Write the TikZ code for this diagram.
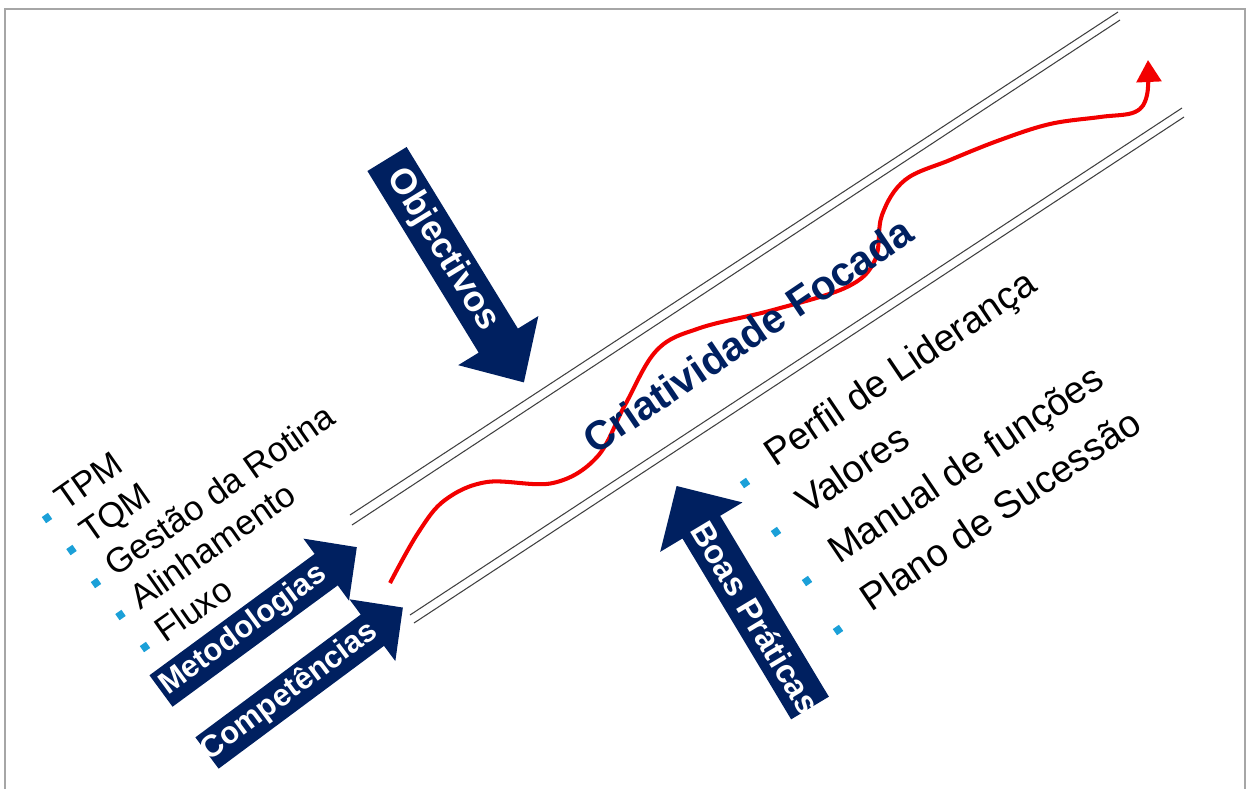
\documentclass[tikz,border=0pt]{standalone}
\usepackage{fontspec}
\setmainfont{Liberation Sans}
\usetikzlibrary{arrows.meta}
\definecolor{navyblue}{HTML}{002060}
\definecolor{bulletblue}{HTML}{1BA0D8}
\definecolor{framegray}{HTML}{A6A6A6}
\tikzset{
  lane/.style={black!75, line width=0.6pt},
  redline/.style={red!95!black, line width=2.3pt, -{Triangle[width=14pt,length=12.5pt]}},
  arrowlabel/.style={text=white, font=\bfseries, inner sep=0pt},
  leftitem/.style={font=\fontsize{19.8}{24}\selectfont, anchor=base west, inner sep=0pt, rotate=35},
  rightitem/.style={font=\fontsize{21.7}{26}\selectfont, anchor=base west, inner sep=0pt, rotate=34},
  bulletsq/.style={fill=bulletblue, minimum size=0.15cm, inner sep=0pt, rotate=35}
}

\begin{document}
\begin{tikzpicture}[x=0.02cm, y=-0.02cm]
\newcommand{\fatarrow}[9]{
  \begin{scope}[shift={#1}, rotate=#2]
    \fill[navyblue] (0,-#4) -- (#3-#6,-#4) -- (#3-#6,-#5) -- (#3,0) -- (#3-#6,#5) -- (#3-#6,#4) -- (0,#4) -- cycle;
    \node[arrowlabel, transform shape, #8] (#7) at ({(#3-#6)/2},0) {#9};
  \end{scope}
}
\useasboundingbox (0,0) rectangle (1248,789);
\draw[framegray, line width=1.2pt] (5,789) -- (5,9) -- (1245,9) -- (1245,789);

\draw[lane] (350,515) -- (1118,12);
\draw[lane] (352,525) -- (1120,20);
\draw[lane] (410,615) -- (1182,108);
\draw[lane] (414,623) -- (1184,117);

\draw [redline,smooth,tension=0.6] plot coordinates {(390,583) (418,533) (445,500) (487,482) (553,483) (597,457) (625,405) (657,350) (700,328) (773,310) (847,287) (875,260) (882,215) (905,180) (950,160) (1000,140) (1050,124) (1100,117) (1135,112) (1147,95) (1148,60)};

\node[font=\bfseries\fontsize{23.2}{28}\selectfont, text=navyblue, rotate=34, inner sep=0pt] (crit) at (748,335) {Criatividade Focada};

\fatarrow{(387,159)}{-58.5}{262}{23}{47}{49}{obj}{font=\bfseries\fontsize{20.4}{24}\selectfont}{Objectivos}
\fatarrow{(810,708)}{121}{259}{22}{48}{48}{boas}{rotate=180, font=\bfseries\fontsize{18.8}{22}\selectfont}{Boas Práticas}
\fatarrow{(161,691)}{36.3}{243}{19.5}{38.5}{38}{metod}{font=\bfseries\fontsize{17.6}{21}\selectfont}{Metodologias}
\fatarrow{(207,753)}{36.6}{244}{19.5}{38.5}{38}{compet}{font=\bfseries\fontsize{17.6}{21}\selectfont}{Competências}

\node[leftitem] (tpm) at (65,512) {TPM};
\node[leftitem] (tqm) at (90,545) {TQM};
\node[leftitem] (rotina) at (115,578) {Gestão da Rotina};
\node[leftitem] (alinh) at (140,611) {Alinhamento};
\node[leftitem] (fluxo) at (165,644) {Fluxo};
\node[bulletsq] (b1) at (47,518) {};
\node[bulletsq] (b2) at (71.5,550) {};
\node[bulletsq] (b3) at (96,583) {};
\node[bulletsq] (b4) at (120.5,615) {};
\node[bulletsq] (b5) at (145,647) {};

\node[rightitem] (perfil) at (775,468) {Perfil de Liderança};
\node[rightitem] (valores) at (807,516) {Valores};
\node[rightitem] (manual) at (839,565) {Manual de funções};
\node[rightitem] (plano) at (871,613) {Plano de Sucessão};
\node[bulletsq] (c1) at (745,483) {};
\node[bulletsq] (c2) at (776,532) {};
\node[bulletsq] (c3) at (807,581) {};
\node[bulletsq] (c4) at (838,630) {};
\end{tikzpicture}
\end{document}
